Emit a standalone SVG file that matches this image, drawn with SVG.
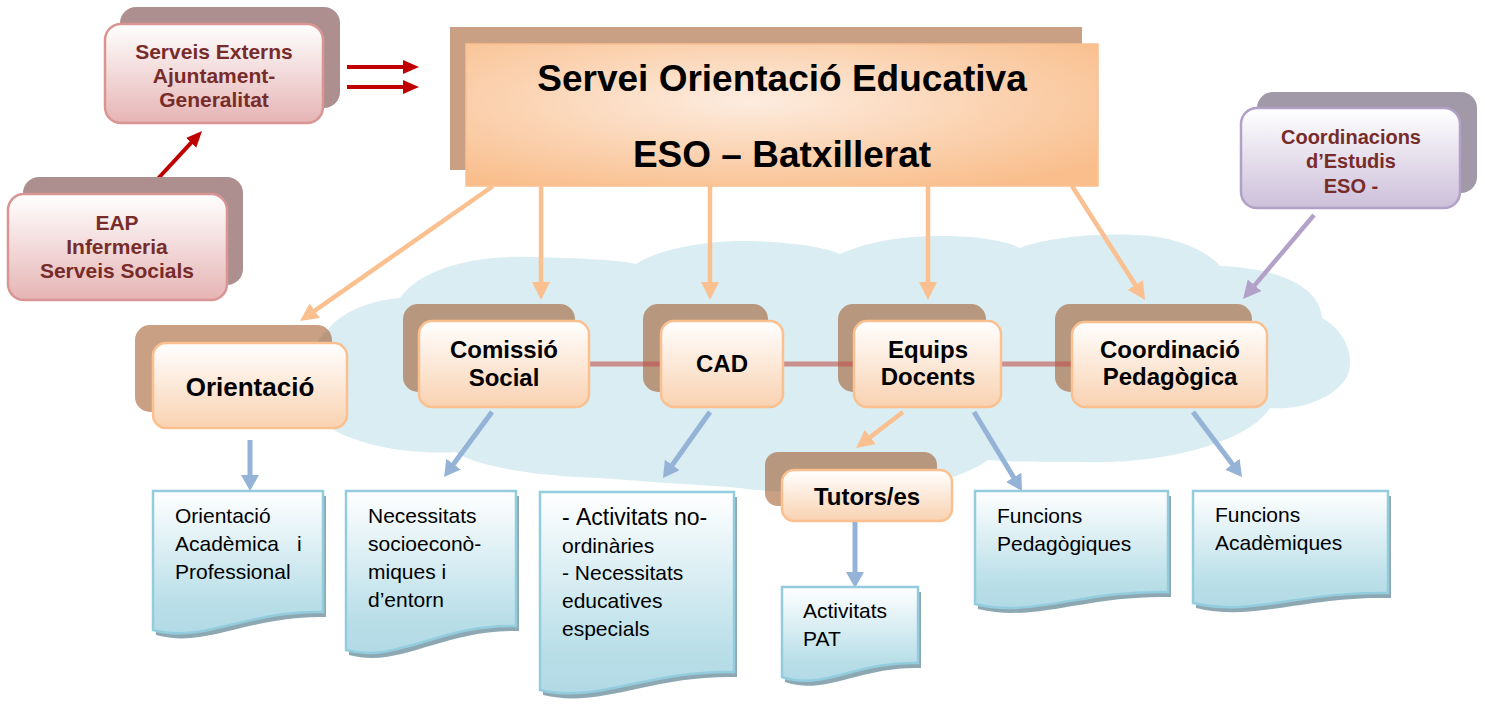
<svg xmlns="http://www.w3.org/2000/svg" width="1485" height="709" viewBox="0 0 1485 709">
<defs>
<style>
.t{font-family:"Liberation Sans",Arial,sans-serif}
.b{font-weight:bold}
.lbl{font-family:"Liberation Sans",Arial,sans-serif;font-weight:bold;font-size:24px;fill:#000;text-anchor:middle}
.top{font-family:"Liberation Sans",Arial,sans-serif;font-weight:bold;font-size:21px;fill:#772C2A;text-anchor:middle}
.doc{font-family:"Liberation Sans",Arial,sans-serif;font-size:21px;fill:#000}
.sh{fill:#934107;fill-opacity:0.5}
.fr{fill:url(#gOr);stroke:#FAC090;stroke-width:2.5}
.pk{fill:url(#gPk);stroke:#D99594;stroke-width:2.5}
.pkS{fill:#AD8F8F}
.pu{fill:url(#gPu);stroke:#B2A1C7;stroke-width:2.5}
.puS{fill:#A199A7}
.dc{fill:url(#gDoc);stroke:#93CDDD;stroke-width:2.5}
.dcS{fill:#8DA8B3}
.ao{stroke:#FAC090;stroke-width:4.5;fill:none;marker-end:url(#mO)}
.ab{stroke:#95B3D7;stroke-width:5;fill:none;marker-end:url(#mB)}
.ar{stroke:#C00000;stroke-width:4;fill:none;marker-end:url(#mR)}
.ap{stroke:#B3A2C7;stroke-width:4.5;fill:none;marker-end:url(#mP)}
</style>
<linearGradient id="gOr" x1="0" y1="0" x2="0" y2="1"><stop offset="0" stop-color="#FFFFFF"/><stop offset="1" stop-color="#F9D2B1"/></linearGradient>
<linearGradient id="gPk" x1="0" y1="0" x2="0" y2="1"><stop offset="0" stop-color="#FFFFFF"/><stop offset="1" stop-color="#E6B4B4"/></linearGradient>
<linearGradient id="gPu" x1="0" y1="0" x2="0" y2="1"><stop offset="0" stop-color="#FFFFFF"/><stop offset="1" stop-color="#CDBFDA"/></linearGradient>
<linearGradient id="gDoc" x1="0" y1="0" x2="0" y2="1"><stop offset="0" stop-color="#FFFFFF"/><stop offset="0.8" stop-color="#B8DEE8"/><stop offset="1" stop-color="#B2DAE6"/></linearGradient>
<radialGradient id="gMain" cx="0.45" cy="0.4" r="0.7"><stop offset="0" stop-color="#FDECDF"/><stop offset="1" stop-color="#F9BE8C"/></radialGradient>
<marker id="mO" markerUnits="userSpaceOnUse" markerWidth="20" markerHeight="20" refX="10" refY="9" orient="auto"><path d="M0,0 L18,9 L0,18 z" fill="#FAC090"/></marker>
<marker id="mB" markerUnits="userSpaceOnUse" markerWidth="20" markerHeight="20" refX="8" refY="9" orient="auto"><path d="M0,0 L16,9 L0,18 z" fill="#95B3D7"/></marker>
<marker id="mR" markerUnits="userSpaceOnUse" markerWidth="20" markerHeight="20" refX="8" refY="7" orient="auto"><path d="M0,0 L16,7 L0,14 z" fill="#C00000"/></marker>
<marker id="mP" markerUnits="userSpaceOnUse" markerWidth="20" markerHeight="20" refX="10" refY="9" orient="auto"><path d="M0,0 L18,9 L0,18 z" fill="#B3A2C7"/></marker>
</defs>

<path id="cloud" d="M334,430 C305,415 300,350 328,330 C340,312 372,300 400,298 C420,270 470,255 530,257 C580,258 620,260 636,264 C660,248 710,240 750,241 C795,242 828,248 840,254 C870,240 910,235 950,236 C985,237 1008,242 1020,248 C1050,236 1110,232 1150,236 C1185,240 1210,254 1220,266 C1275,268 1320,285 1322,318 C1345,330 1358,360 1345,380 C1330,400 1300,410 1270,408 C1250,440 1170,465 1080,462 C1040,462 1005,462 988,460 C960,480 900,495 840,492 C800,492 765,492 740,488 C700,485 650,482 600,478 C540,476 480,468 455,452 C410,455 360,445 334,430 Z" fill="#DAEDF3"/>

<g id="connectors">
<line class="ar" x1="347" y1="67" x2="411" y2="67"/>
<line class="ar" x1="347" y1="87" x2="411" y2="87"/>
<line class="ar" x1="153" y1="184" x2="196.6" y2="136.9"/>
<line class="ao" x1="493" y1="186" x2="306.6" y2="316.4"/>
<line class="ao" x1="541" y1="186" x2="541" y2="292"/>
<line class="ao" x1="710" y1="186" x2="710" y2="292"/>
<line class="ao" x1="928" y1="186" x2="928" y2="292"/>
<line class="ao" x1="1072" y1="186" x2="1140.7" y2="293.3"/>
<line class="ap" x1="1314" y1="215" x2="1248.2" y2="292.9"/>
<line class="ao" x1="903" y1="412" x2="862.4" y2="443.1"/>
<line class="ab" x1="250" y1="440" x2="250" y2="483"/>
<line class="ab" x1="492" y1="412" x2="448.8" y2="470.6"/>
<line class="ab" x1="710" y1="412" x2="667.6" y2="471.5"/>
<line class="ab" x1="974" y1="412" x2="1017.8" y2="484.2"/>
<line class="ab" x1="1193" y1="412" x2="1237.2" y2="470.6"/>
<line class="ab" x1="855" y1="522" x2="855" y2="580"/>
</g>

<g id="serveis-externs">
<rect class="pkS" x="120" y="7" width="220" height="101" rx="16"/>
<rect class="pk" x="105" y="24" width="218" height="99" rx="16"/>
<text class="top" x="214" y="59">Serveis Externs</text>
<text class="top" x="214" y="83">Ajuntament-</text>
<text class="top" x="214" y="107">Generalitat</text>
</g>

<g id="eap">
<rect class="pkS" x="23" y="177" width="220" height="108" rx="16"/>
<rect class="pk" x="8" y="194" width="219" height="106" rx="16"/>
<text class="top" x="117" y="230">EAP</text>
<text class="top" x="117" y="254">Infermeria</text>
<text class="top" x="117" y="278">Serveis Socials</text>
</g>

<g id="coordinacions">
<rect class="puS" x="1257" y="92" width="220" height="101" rx="16"/>
<rect class="pu" x="1241" y="108" width="219" height="100" rx="16"/>
<text class="top" x="1351" y="144" style="font-size:20px">Coordinacions</text>
<text class="top" x="1351" y="168" style="font-size:20px">d’Estudis</text>
<text class="top" x="1351" y="193" style="font-size:20px">ESO -</text>
</g>

<g id="servei-orientacio">
<rect class="sh" x="450" y="27" width="632" height="143"/>
<rect x="466" y="44" width="632" height="142" fill="url(#gMain)" stroke="#FAC090" stroke-width="1.5"/>
<text class="t b" x="782" y="91" font-size="37" text-anchor="middle">Servei Orientació Educativa</text>
<text class="t b" x="782" y="167" font-size="37" text-anchor="middle">ESO – Batxillerat</text>
</g>

<g id="shadows">
<rect class="sh" x="135" y="325" width="197" height="87" rx="15"/>
<rect class="sh" x="403" y="304" width="172" height="88" rx="15"/>
<rect class="sh" x="643" y="304" width="125" height="88" rx="15"/>
<rect class="sh" x="838" y="304" width="148" height="88" rx="15"/>
<rect class="sh" x="1055" y="304" width="197" height="88" rx="15"/>
<rect class="sh" x="765" y="452" width="172" height="54" rx="13"/>
</g>

<g id="links">
<line x1="580" y1="364" x2="1080" y2="364" stroke="#C0504D" stroke-opacity="0.6" stroke-width="5"/>
</g>

<g id="orientacio">
<rect class="fr" x="153" y="343" width="194" height="85" rx="13"/>
<text class="lbl" x="250" y="396" style="font-size:26px">Orientació</text>
</g>

<g id="comissio-social">
<rect class="fr" x="419" y="321" width="170" height="86" rx="13"/>
<text class="lbl" x="504" y="358">Comissió</text>
<text class="lbl" x="504" y="386">Social</text>
</g>

<g id="cad">
<rect class="fr" x="661" y="321" width="122" height="86" rx="13"/>
<text class="lbl" x="722" y="372">CAD</text>
</g>

<g id="equips-docents">
<rect class="fr" x="854" y="321" width="147" height="86" rx="13"/>
<text class="lbl" x="928" y="358">Equips</text>
<text class="lbl" x="928" y="385">Docents</text>
</g>

<g id="coordinacio-pedagogica">
<rect class="fr" x="1072" y="322" width="195" height="85" rx="13"/>
<text class="lbl" x="1170" y="358">Coordinació</text>
<text class="lbl" x="1170" y="385">Pedagògica</text>
</g>

<g id="tutors">
<rect class="fr" x="782" y="470" width="170" height="51" rx="12"/>
<text class="lbl" x="867" y="505">Tutors/es</text>
</g>

<g id="doc-orientacio">
<path class="dcS" transform="translate(3,5)" d="M153,491 H323 V612 C246.5,610 204,644 153,630 Z"/>
<path class="dc" d="M153,491 H323 V612 C246.5,610 204,644 153,630 Z"/>
<text class="doc" x="175" y="523">Orientació</text>
<text class="doc" x="175" y="551">Acadèmica</text>
<text class="doc" x="297" y="551">i</text>
<text class="doc" x="175" y="579">Professional</text>
</g>

<g id="doc-necessitats">
<path class="dcS" transform="translate(3,5)" d="M346,491 H516 V626 C439.5,624 397,664 346,650 Z"/>
<path class="dc" d="M346,491 H516 V626 C439.5,624 397,664 346,650 Z"/>
<text class="doc" x="368" y="523">Necessitats</text>
<text class="doc" x="368" y="551">socioeconò-</text>
<text class="doc" x="368" y="579">miques i</text>
<text class="doc" x="368" y="607">d’entorn</text>
</g>

<g id="doc-activitats">
<path class="dcS" transform="translate(3,5)" d="M540,492 H734 V672 C646.7,670 598.2,704 540,690 Z"/>
<path class="dc" d="M540,492 H734 V672 C646.7,670 598.2,704 540,690 Z"/>
<text class="doc" x="562" y="525" style="font-size:23px">-</text>
<text class="doc" x="576" y="525" style="font-size:23px">Activitats</text>
<text class="doc" x="674" y="525" style="font-size:23px">no-</text>
<text class="doc" x="562" y="553">ordinàries</text>
<text class="doc" x="562" y="580">- Necessitats</text>
<text class="doc" x="562" y="608">educatives</text>
<text class="doc" x="562" y="636">especials</text>
</g>

<g id="doc-pat">
<path class="dcS" transform="translate(3,5)" d="M782,587 H918 V663 C856.8,661 822.8,691 782,677 Z"/>
<path class="dc" d="M782,587 H918 V663 C856.8,661 822.8,691 782,677 Z"/>
<text class="doc" x="803" y="618">Activitats</text>
<text class="doc" x="803" y="646">PAT</text>
</g>

<g id="doc-pedagogiques">
<path class="dcS" transform="translate(3,5)" d="M975,491 H1168 V592 C1081.2,590 1032.9,618 975,604 Z"/>
<path class="dc" d="M975,491 H1168 V592 C1081.2,590 1032.9,618 975,604 Z"/>
<text class="doc" x="997" y="523">Funcions</text>
<text class="doc" x="997" y="551">Pedagògiques</text>
</g>

<g id="doc-academiques">
<path class="dcS" transform="translate(3,5)" d="M1193,491 H1388 V593 C1300.3,591 1251.5,617 1193,603 Z"/>
<path class="dc" d="M1193,491 H1388 V593 C1300.3,591 1251.5,617 1193,603 Z"/>
<text class="doc" x="1215" y="522">Funcions</text>
<text class="doc" x="1215" y="550">Acadèmiques</text>
</g>
</svg>
